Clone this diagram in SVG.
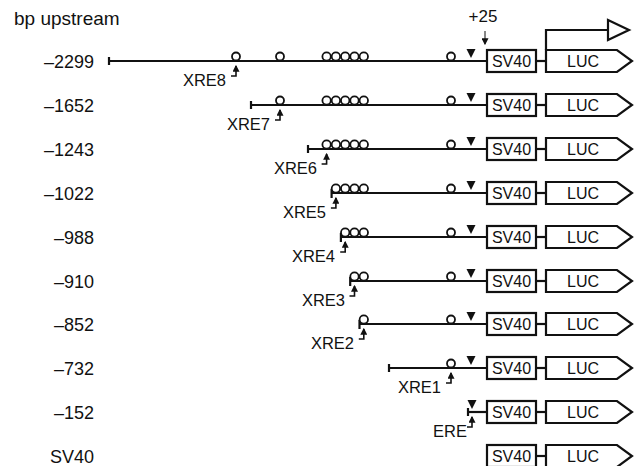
<svg xmlns="http://www.w3.org/2000/svg" width="639" height="466" viewBox="0 0 639 466">
<style>
text{font-family:"Liberation Sans",Arial,sans-serif;fill:#111}
.lab{font-size:18px;text-anchor:end}
.xre{font-size:16.5px;text-anchor:end}
.box{fill:#fff;stroke:#111;stroke-width:2.2}
.bt{font-size:16px;text-anchor:middle}
.ln{stroke:#111;stroke-width:2.2;fill:none}
.c{fill:#fff;stroke:#111;stroke-width:1.8}
.tri{fill:#111}
.hk{stroke:#111;stroke-width:1.6;fill:none}
</style>
<defs>
<marker id="ah" viewBox="0 0 6 6" refX="5" refY="3" markerWidth="7" markerHeight="7" markerUnits="userSpaceOnUse" orient="auto">
<path d="M0,0 L6,3 L0,6 z" fill="#111"/>
</marker>
<g id="unit">
<line class="ln" x1="536" y1="0" x2="546" y2="0"/>
<rect class="box" x="487" y="-11" width="49" height="22"/>
<text class="bt" x="511.5" y="6">SV40</text>
<path class="box" d="M546,-11 H617 L632,0 L617,11 H546 Z"/>
<text class="bt" x="583" y="6">LUC</text>
</g>
<path id="tr" class="tri" d="M466.5,-12 H475.5 L471,-3 Z"/>
</defs>

<text x="14" y="25" style="font-size:19px">bp upstream</text>
<text x="483" y="22" style="font-size:17px;text-anchor:middle">+25</text>

<g id="connectors">
<path class="hk" d="M485,31 V44" marker-end="url(#ah)" style="stroke-width:1"/>
<path class="ln" d="M546,50 V30 H608"/>
<path class="box" d="M608,20 L629,30 L608,40 Z"/>
</g>

<g id="row1">
<text class="lab" x="94" y="67.5">–2299</text>
<line class="ln" x1="109" y1="61" x2="487" y2="61"/>
<line class="ln" x1="109" y1="57" x2="109" y2="65"/>
<circle class="c" cx="236" cy="56.5" r="4"/>
<circle class="c" cx="280" cy="56.5" r="4"/>
<circle class="c" cx="326.6" cy="56.5" r="4.2"/><circle class="c" cx="335.9" cy="56.5" r="4.2"/><circle class="c" cx="345.2" cy="56.5" r="4.2"/><circle class="c" cx="354.5" cy="56.5" r="4.2"/><circle class="c" cx="363.8" cy="56.5" r="4.2"/>
<circle class="c" cx="451" cy="56.5" r="4"/>
<use href="#tr" y="61"/>
<use href="#unit" y="61"/>
<path class="hk" d="M231,76 H236 V66" marker-end="url(#ah)"/>
<text class="xre" x="226" y="86">XRE8</text>
</g>

<g id="row2">
<text class="lab" x="94" y="111.5">–1652</text>
<line class="ln" x1="251" y1="105" x2="487" y2="105"/>
<line class="ln" x1="251" y1="101" x2="251" y2="109"/>
<circle class="c" cx="280" cy="100.5" r="4"/>
<circle class="c" cx="326.6" cy="100.5" r="4.2"/><circle class="c" cx="335.9" cy="100.5" r="4.2"/><circle class="c" cx="345.2" cy="100.5" r="4.2"/><circle class="c" cx="354.5" cy="100.5" r="4.2"/><circle class="c" cx="363.8" cy="100.5" r="4.2"/>
<circle class="c" cx="451" cy="100.5" r="4"/>
<use href="#tr" y="105"/>
<use href="#unit" y="105"/>
<path class="hk" d="M275,120 H280 V110" marker-end="url(#ah)"/>
<text class="xre" x="270" y="130">XRE7</text>
</g>

<g id="row3">
<text class="lab" x="94" y="155.5">–1243</text>
<line class="ln" x1="308" y1="149" x2="487" y2="149"/>
<line class="ln" x1="308" y1="145" x2="308" y2="153"/>
<circle class="c" cx="326.6" cy="144.5" r="4.2"/><circle class="c" cx="335.9" cy="144.5" r="4.2"/><circle class="c" cx="345.2" cy="144.5" r="4.2"/><circle class="c" cx="354.5" cy="144.5" r="4.2"/><circle class="c" cx="363.8" cy="144.5" r="4.2"/>
<circle class="c" cx="451" cy="144.5" r="4"/>
<use href="#tr" y="149"/>
<use href="#unit" y="149"/>
<path class="hk" d="M321.6,164 H326.6 V154" marker-end="url(#ah)"/>
<text class="xre" x="317" y="174">XRE6</text>
</g>

<g id="row4">
<text class="lab" x="94" y="199.5">–1022</text>
<line class="ln" x1="331.6" y1="193" x2="487" y2="193"/>
<line class="ln" x1="331.6" y1="189" x2="331.6" y2="198"/>
<circle class="c" cx="335.9" cy="188.5" r="4.2"/><circle class="c" cx="345.2" cy="188.5" r="4.2"/><circle class="c" cx="354.5" cy="188.5" r="4.2"/><circle class="c" cx="363.8" cy="188.5" r="4.2"/>
<circle class="c" cx="451" cy="188.5" r="4"/>
<use href="#tr" y="193"/>
<use href="#unit" y="193"/>
<path class="hk" d="M330.9,208 H335.9 V198" marker-end="url(#ah)"/>
<text class="xre" x="326" y="218">XRE5</text>
</g>

<g id="row5">
<text class="lab" x="94" y="243.5">–988</text>
<line class="ln" x1="340.9" y1="237" x2="487" y2="237"/>
<line class="ln" x1="340.9" y1="233" x2="340.9" y2="242"/>
<circle class="c" cx="345.2" cy="232.5" r="4.2"/><circle class="c" cx="354.5" cy="232.5" r="4.2"/><circle class="c" cx="363.8" cy="232.5" r="4.2"/>
<circle class="c" cx="451" cy="232.5" r="4"/>
<use href="#tr" y="237"/>
<use href="#unit" y="237"/>
<path class="hk" d="M340.2,252 H345.2 V242" marker-end="url(#ah)"/>
<text class="xre" x="335" y="262">XRE4</text>
</g>

<g id="row6">
<text class="lab" x="94" y="287.5">–910</text>
<line class="ln" x1="350.2" y1="281" x2="487" y2="281"/>
<line class="ln" x1="350.2" y1="277" x2="350.2" y2="286"/>
<circle class="c" cx="354.5" cy="276.5" r="4.2"/><circle class="c" cx="363.8" cy="276.5" r="4.2"/>
<circle class="c" cx="451" cy="276.5" r="4"/>
<use href="#tr" y="281"/>
<use href="#unit" y="281"/>
<path class="hk" d="M349.5,296 H354.5 V286" marker-end="url(#ah)"/>
<text class="xre" x="345" y="306">XRE3</text>
</g>

<g id="row7">
<text class="lab" x="94" y="330.5">–852</text>
<line class="ln" x1="359.5" y1="324" x2="487" y2="324"/>
<line class="ln" x1="359.5" y1="320" x2="359.5" y2="329"/>
<circle class="c" cx="363.8" cy="319.5" r="4.2"/>
<circle class="c" cx="451" cy="319.5" r="4"/>
<use href="#tr" y="324"/>
<use href="#unit" y="324"/>
<path class="hk" d="M358.8,339 H363.8 V329" marker-end="url(#ah)"/>
<text class="xre" x="354" y="349">XRE2</text>
</g>

<g id="row8">
<text class="lab" x="94" y="374.5">–732</text>
<line class="ln" x1="389" y1="368" x2="487" y2="368"/>
<line class="ln" x1="389" y1="364" x2="389" y2="372"/>
<circle class="c" cx="451" cy="363.5" r="4"/>
<use href="#tr" y="368"/>
<use href="#unit" y="368"/>
<path class="hk" d="M446,383 H451 V373" marker-end="url(#ah)"/>
<text class="xre" x="441" y="393">XRE1</text>
</g>

<g id="row9">
<text class="lab" x="94" y="418.5">–152</text>
<line class="ln" x1="468" y1="412" x2="487" y2="412"/>
<line class="ln" x1="468" y1="408" x2="468" y2="416"/>
<use href="#tr" y="412" x="1"/>
<use href="#unit" y="412"/>
<path class="hk" d="M467,427 H472 V417" marker-end="url(#ah)"/>
<text class="xre" x="467" y="437">ERE</text>
</g>

<g id="row10">
<text class="lab" x="94" y="462.5">SV40</text>
<use href="#unit" y="456"/>
</g>
</svg>
